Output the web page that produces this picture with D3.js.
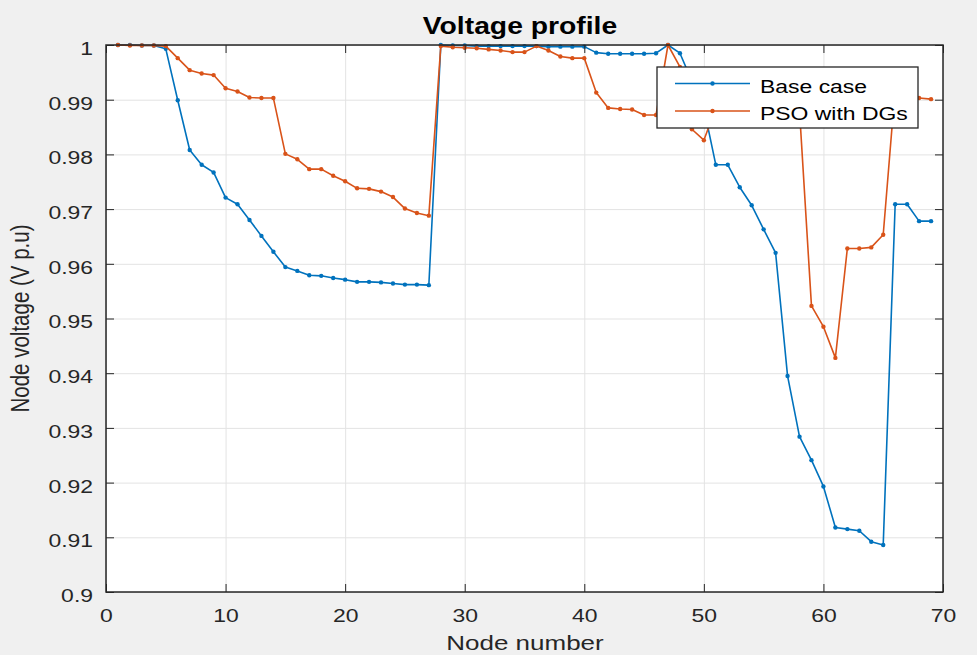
<!DOCTYPE html>
<html>
<head>
<meta charset="utf-8">
<script src="https://cdn.jsdelivr.net/npm/d3@7"></script>
<style>
  html, body { margin: 0; padding: 0; background: #f0f0f0; }
  svg { display: block; font-family: "Liberation Sans", Arial, sans-serif; }
  .axis text { fill: #262626; }
</style>
</head>
<body>
<div id="chart"></div>
<script>
// node numbers on the x axis
const nodes = [1, 2, 3, 4, 5, 6, 7, 8, 9, 10, 11, 12, 13, 14, 15, 16, 17, 18, 19, 20,
  21, 22, 23, 24, 25, 26, 27, 28, 29, 30, 31, 32, 33, 34, 35, 36, 37, 38, 39, 40,
  41, 42, 43, 44, 45, 46, 47, 48, 49, 50, 51, 52, 53, 54, 55, 56, 57, 58, 59, 60,
  61, 62, 63, 64, 65, 66, 67, 68, 69];

// voltage (p.u)
const baseCase = [1.0000, 1.0000, 0.9999, 0.9999, 0.9993, 0.9899, 0.9808, 0.9781, 0.9767, 0.9721,
  0.9709, 0.9680, 0.9651, 0.9622, 0.9594, 0.9587, 0.9579, 0.9578, 0.9574, 0.9571,
  0.9567, 0.9567, 0.9566, 0.9564, 0.9562, 0.9562, 0.9561, 1.0000, 0.9999, 0.9999,
  0.9998, 0.9998, 0.9998, 0.9998, 0.9998, 0.9998, 0.9997, 0.9997, 0.9997, 0.9997,
  0.9986, 0.9984, 0.9984, 0.9984, 0.9984, 0.9985, 1.0000, 0.9985, 0.9934, 0.9885,
  0.9781, 0.9781, 0.9740, 0.9707, 0.9663, 0.9620, 0.9395, 0.9284, 0.9241, 0.9193,
  0.9118, 0.9115, 0.9112, 0.9092, 0.9086, 0.9709, 0.9709, 0.9678, 0.9678];

const psoWithDGs = [1.0000, 0.9999, 0.9999, 0.9999, 0.9998, 0.9976, 0.9954, 0.9948, 0.9945, 0.9921,
  0.9915, 0.9904, 0.9903, 0.9903, 0.9801, 0.9791, 0.9773, 0.9773, 0.9761, 0.9751,
  0.9738, 0.9737, 0.9732, 0.9722, 0.9701, 0.9693, 0.9688, 0.9998, 0.9996, 0.9995,
  0.9994, 0.9992, 0.9990, 0.9987, 0.9987, 0.9998, 0.9990, 0.9979, 0.9976, 0.9976,
  0.9913, 0.9885, 0.9883, 0.9882, 0.9872, 0.9872, 1.0000, 0.9960, 0.9846, 0.9826,
  0.9885, 0.9884, 0.9883, 0.9883, 0.9882, 0.9881, 0.9881, 0.9880, 0.9523, 0.9485,
  0.9428, 0.9628, 0.9628, 0.9630, 0.9653, 0.9920, 0.9905, 0.9903, 0.9901];

const xTicks = [0, 10, 20, 30, 40, 50, 60, 70];
const yTicks = [0.9, 0.91, 0.92, 0.93, 0.94, 0.95, 0.96, 0.97, 0.98, 0.99, 1];
const seriesNames = ['Base case', 'PSO with DGs'];
const seriesColors = ['#0072bd', '#d95319'];

const W = 977;
const H = 655;
const plot = { left: 106, right: 943, top: 45, bottom: 592 };
const SX = 1.24; // text in the picture is stretched sideways

const svg = d3.select('#chart').append('svg')
  .attr('width', W)
  .attr('height', H);

const x = d3.scaleLinear().domain([0, 70]).range([plot.left, plot.right]);
const y = d3.scaleLinear().domain([0.9, 1]).range([plot.bottom, plot.top]);

// stretch text horizontally around its anchor
function stretch(sel, sx) {
  sel.each(function () {
    const t = d3.select(this);
    const tx = +t.attr('x') || 0;
    t.attr('x', tx / sx).attr('transform', `scale(${sx},1)`);
  });
}

svg.append('rect')
  .attr('x', plot.left)
  .attr('y', plot.top)
  .attr('width', plot.right - plot.left)
  .attr('height', plot.bottom - plot.top)
  .attr('fill', '#fff');

// grid
svg.append('g')
  .attr('class', 'grid')
  .attr('transform', `translate(0,${plot.bottom})`)
  .call(d3.axisBottom(x).tickValues(xTicks).tickFormat('')
    .tickSize(-(plot.bottom - plot.top)).tickSizeOuter(0))
  .call(g => g.select('.domain').remove())
  .call(g => g.selectAll('line').attr('stroke', '#e3e3e3'));

svg.append('g')
  .attr('class', 'grid')
  .attr('transform', `translate(${plot.left},0)`)
  .call(d3.axisLeft(y).tickValues(yTicks).tickFormat('')
    .tickSize(-(plot.right - plot.left)).tickSizeOuter(0))
  .call(g => g.select('.domain').remove())
  .call(g => g.selectAll('line').attr('stroke', '#e3e3e3'));

// series
svg.append('clipPath').attr('id', 'clip')
  .append('rect')
  .attr('x', plot.left - 3)
  .attr('y', plot.top - 3)
  .attr('width', plot.right - plot.left + 6)
  .attr('height', plot.bottom - plot.top + 6);

const series = [baseCase, psoWithDGs];
const line = d3.line()
  .x((d, i) => x(nodes[i]))
  .y(d => y(d));

const lines = svg.append('g').attr('clip-path', 'url(#clip)');
series.forEach(function (vals, s) {
  lines.append('path')
    .datum(vals)
    .attr('fill', 'none')
    .attr('stroke', seriesColors[s])
    .attr('stroke-width', 1.6)
    .attr('stroke-linejoin', 'round')
    .attr('d', line);
  lines.selectAll(`.dot${s}`)
    .data(vals)
    .enter()
    .append('circle')
    .attr('class', `dot${s}`)
    .attr('cx', (d, i) => x(nodes[i]))
    .attr('cy', d => y(d))
    .attr('r', 2.2)
    .attr('fill', seriesColors[s]);
});

// axes with inward ticks on all four sides
const axisColor = '#262626';
const tickFont = 18.5;

const xAxisG = svg.append('g')
  .attr('class', 'axis')
  .attr('transform', `translate(0,${plot.bottom})`)
  .call(d3.axisBottom(x).tickValues(xTicks).tickSize(-8).tickSizeOuter(0));
xAxisG.selectAll('text')
  .attr('y', 29.7)
  .attr('dy', null)
  .attr('font-size', tickFont)
  .call(stretch, SX);

svg.append('g')
  .attr('class', 'axis')
  .attr('transform', `translate(0,${plot.top})`)
  .call(d3.axisTop(x).tickValues(xTicks).tickSize(-8).tickSizeOuter(0).tickFormat(''));

const yAxisG = svg.append('g')
  .attr('class', 'axis')
  .attr('transform', `translate(${plot.left},0)`)
  .call(d3.axisLeft(y).tickValues(yTicks).tickSize(-8).tickSizeOuter(0)
    .tickFormat(d => String(+d.toFixed(2))));
yAxisG.selectAll('text')
  .attr('x', -13)
  .attr('y', 3)
  .attr('dy', '0.35em')
  .attr('font-size', tickFont)
  .call(stretch, SX);

svg.append('g')
  .attr('class', 'axis')
  .attr('transform', `translate(${plot.right},0)`)
  .call(d3.axisRight(y).tickValues(yTicks).tickSize(-8).tickSizeOuter(0).tickFormat(''));

svg.selectAll('.axis .domain').remove();
svg.selectAll('.axis line').attr('stroke', axisColor);

svg.append('rect')
  .attr('x', plot.left)
  .attr('y', plot.top)
  .attr('width', plot.right - plot.left)
  .attr('height', plot.bottom - plot.top)
  .attr('fill', 'none')
  .attr('stroke', axisColor)
  .attr('stroke-width', 1.5);

// title and labels
svg.append('text')
  .attr('x', 520 / 1.23)
  .attr('y', 34)
  .attr('transform', 'scale(1.23,1)')
  .attr('text-anchor', 'middle')
  .attr('font-size', 23)
  .attr('font-weight', 'bold')
  .attr('fill', '#000')
  .text('Voltage profile');

svg.append('text')
  .attr('x', 525 / 1.3)
  .attr('y', 650)
  .attr('transform', 'scale(1.3,1)')
  .attr('text-anchor', 'middle')
  .attr('font-size', 20)
  .attr('fill', axisColor)
  .text('Node number');

svg.append('text')
  .attr('transform', `translate(29,${(plot.top + plot.bottom) / 2}) rotate(-90) scale(1,1.3)`)
  .attr('text-anchor', 'middle')
  .attr('font-size', 20.5)
  .attr('fill', axisColor)
  .text('Node voltage (V p.u)');

// legend
const legend = svg.append('g').attr('transform', 'translate(657,67)');
legend.append('rect')
  .attr('width', 261)
  .attr('height', 61)
  .attr('fill', '#fff')
  .attr('stroke', axisColor)
  .attr('stroke-width', 1.3);

seriesNames.forEach(function (name, i) {
  const ly = 16.5 + i * 27.5;
  legend.append('line')
    .attr('x1', 18).attr('x2', 93)
    .attr('y1', ly).attr('y2', ly)
    .attr('stroke', seriesColors[i])
    .attr('stroke-width', 1.6);
  legend.append('circle')
    .attr('cx', 55.5).attr('cy', ly)
    .attr('r', 2.2)
    .attr('fill', seriesColors[i]);
  legend.append('text')
    .attr('x', 103 / SX)
    .attr('y', ly + 9.2)
    .attr('transform', `scale(${SX},1)`)
    .attr('font-size', tickFont)
    .attr('fill', '#000')
    .text(name);
});
</script>
</body>
</html>
